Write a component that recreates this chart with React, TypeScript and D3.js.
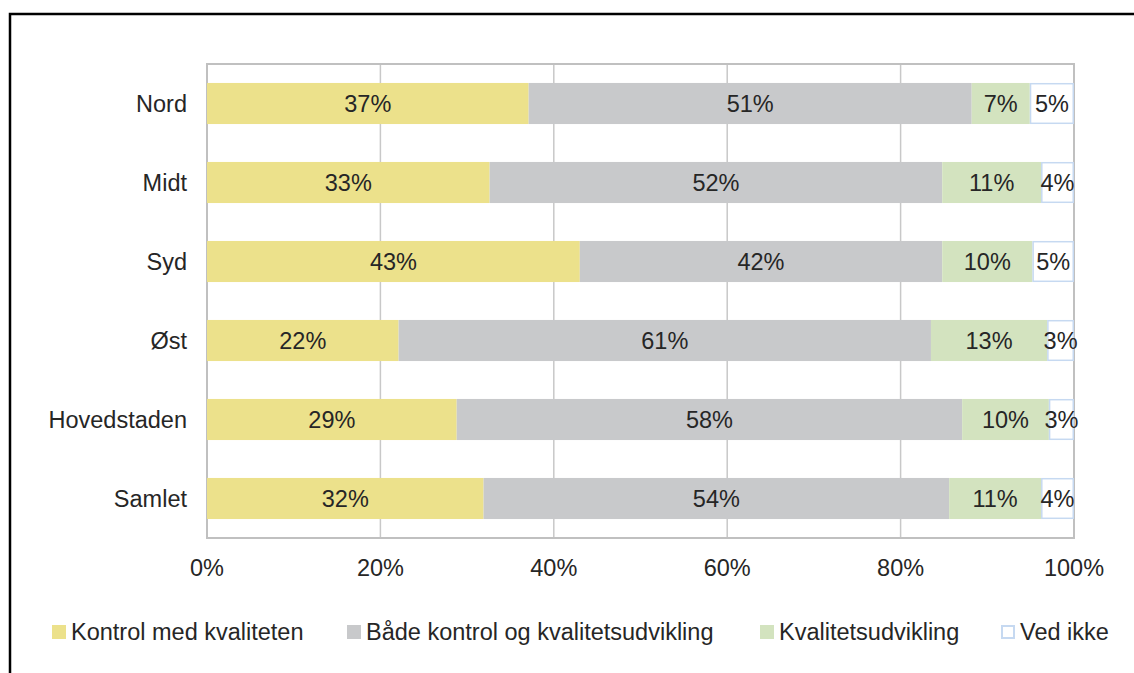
import React from 'react'
import * as d3 from 'd3'

const REGIONS = ['Nord', 'Midt', 'Syd', 'Øst', 'Hovedstaden', 'Samlet']
const SERIES = ['Kontrol med kvaliteten', 'Både kontrol og kvalitetsudvikling', 'Kvalitetsudvikling', 'Ved ikke']
const KONTROL = [37.1, 32.6, 43.0, 22.1, 28.8, 31.9]
const BEGGE = [51.1, 52.2, 41.8, 61.4, 58.3, 53.7]
const UDVIKLING = [6.7, 11.4, 10.4, 13.4, 10.0, 10.6]
const VED_IKKE = [5.1, 3.8, 4.8, 3.1, 2.9, 3.8]
const X_TICKS = [0, 20, 40, 60, 80, 100]

const FILLS = ['#ece18b', '#c8c9cb', '#d3e3bf', '#ffffff']
const STROKES = ['none', 'none', 'none', '#c6d9f1']
const FONT = 'Liberation Sans, Arial, sans-serif'
const FS = 23.5

export default function App() {
  const W = 1134
  const H = 673
  const plot = { left: 207, right: 1074, top: 64, bottom: 538 }

  const x = d3.scaleLinear().domain([0, 100]).range([plot.left, plot.right])
  const y = d3.scaleBand<string>().domain(REGIONS).range([plot.top, plot.bottom]).paddingInner(0.48).paddingOuter(0.24)

  const rows = REGIONS.map((r, i) => ({ region: r, vals: [KONTROL[i], BEGGE[i], UDVIKLING[i], VED_IKKE[i]] }))
  const stacked = d3.stack<number[]>().keys([0, 1, 2, 3] as any).value((d, k) => d[k as any])(rows.map((r) => r.vals))

  const legendX = [52, 347, 760, 1001]

  return (
    <svg width={W} height={H} style={{ position: 'absolute', left: 0, top: 0 }} fontFamily={FONT}>
      <rect x={0} y={0} width={W} height={H} fill="#fff" />
      <rect x={10} y={14} width={1300} height={900} fill="none" stroke="#000" strokeWidth={2.5} />

      {/* gridlines */}
      {X_TICKS.map((t) => (
        <line key={t} x1={x(t)} x2={x(t)} y1={plot.top} y2={plot.bottom} stroke="#c8c8c8" strokeWidth={1.5} />
      ))}
      <rect x={plot.left} y={plot.top} width={plot.right - plot.left} height={plot.bottom - plot.top} fill="none" stroke="#c0c0c0" strokeWidth={2} />

      {/* bars */}
      {stacked.map((layer, si) =>
        layer.map((seg, ri) => {
          const x0 = x(seg[0])
          const x1 = x(seg[1])
          const yy = y(REGIONS[ri])!
          const bw = y.bandwidth()
          const v = rows[ri].vals[si]
          return (
            <g key={`${si}-${ri}`}>
              <rect
                x={si === 3 ? x0 + 0.75 : x0}
                y={si === 3 ? yy + 0.75 : yy}
                width={si === 3 ? x1 - x0 - 1.5 : x1 - x0}
                height={si === 3 ? bw - 1.5 : bw}
                fill={FILLS[si]}
                stroke={STROKES[si]}
                strokeWidth={1.5}
              />
              <text x={(x0 + x1) / 2} y={yy + bw / 2} dy="0.36em" textAnchor="middle" fontSize={FS} fill="#262626">
                {`${Math.round(v)}%`}
              </text>
            </g>
          )
        })
      )}

      {/* category labels */}
      {REGIONS.map((r) => (
        <text key={r} x={187} y={y(r)! + y.bandwidth() / 2} dy="0.36em" textAnchor="end" fontSize={FS} fill="#262626">
          {r}
        </text>
      ))}

      {/* x axis labels */}
      {X_TICKS.map((t) => (
        <text key={t} x={x(t)} y={568} dy="0.36em" textAnchor="middle" fontSize={FS} fill="#262626">
          {`${t}%`}
        </text>
      ))}

      {/* legend */}
      {SERIES.map((s, i) => (
        <g key={s} transform={`translate(${legendX[i]},632)`}>
          {i === 3 ? (
            <rect x={1} y={-6} width={12} height={12} fill="#fff" stroke="#c6d9f1" strokeWidth={2} />
          ) : (
            <rect x={0} y={-7} width={14} height={14} fill={FILLS[i]} />
          )}
          <text x={19} y={0} dy="0.36em" fontSize={FS} fill="#262626">
            {s}
          </text>
        </g>
      ))}
    </svg>
  )
}
